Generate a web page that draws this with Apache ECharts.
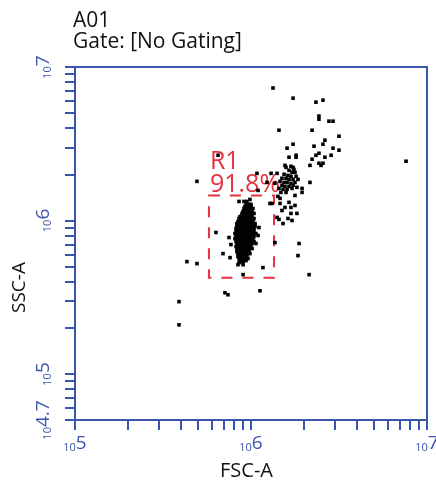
<!DOCTYPE html>
<html>
<head>
<meta charset="utf-8">
<title>A01 FSC-A / SSC-A</title>
<script src="https://cdn.jsdelivr.net/npm/echarts@6.0.0/dist/echarts.min.js"></script>
<style>
  html, body { margin: 0; padding: 0; background: #fff; }
  #chart { width: 436px; height: 481px; }
</style>
</head>
<body>
<div id="chart"></div>
<script>
// all event values are log10 of FSC-A / SSC-A
const xLabelExps = [5, 6, 7]
const xTickLabels = ['5', '6', '7']
const yLabelExps = [4.7, 5, 6, 7]
const yTickLabels = ['4.7', '5', '6', '7']

const gateX = [5.761, 6.131]
const gateY = [5.627, 6.163]
const gateName = 'R1'
const gatePct = '91.8%'

// main population, one row per SSC level: [ssc, [fsc...]]
const blobRows = [
  [6.137, [5.994]],
  [6.124, [5.932, 5.960, 5.977]],
  [6.105, [5.972, 5.989, 6.000]],
  [6.092, [5.966, 5.983, 6.000]],
  [6.078, [5.960, 5.977, 5.994, 6.011]],
  [6.059, [5.955, 5.972, 5.989, 6.006]],
  [6.046, [5.949, 5.966, 5.983, 6.000, 6.017]],
  [6.026, [5.938, 5.955, 5.972, 5.989, 6.006]],
  [6.013, [5.932, 5.949, 5.966, 5.983, 6.000, 6.017]],
  [5.993, [5.926, 5.943, 5.960, 5.977, 5.994, 6.011]],
  [5.980, [5.920, 5.938, 5.955, 5.972, 5.989, 6.006, 6.023]],
  [5.961, [5.920, 5.938, 5.955, 5.972, 5.989, 6.006, 6.023]],
  [5.948, [5.915, 5.932, 5.949, 5.966, 5.983, 6.000, 6.017]],
  [5.928, [5.915, 5.932, 5.949, 5.966, 5.983, 6.000, 6.017]],
  [5.915, [5.909, 5.926, 5.943, 5.960, 5.977, 5.994, 6.011, 6.028]],
  [5.895, [5.915, 5.932, 5.949, 5.966, 5.983, 6.000, 6.017]],
  [5.882, [5.909, 5.926, 5.943, 5.960, 5.977, 5.994, 6.011]],
  [5.863, [5.915, 5.932, 5.949, 5.966, 5.983, 6.000, 6.017]],
  [5.850, [5.920, 5.938, 5.955, 5.972, 5.989, 6.006]],
  [5.830, [5.915, 5.932, 5.949, 5.966, 5.983, 6.000]],
  [5.817, [5.920, 5.938, 5.955, 5.972, 5.989, 6.006]],
  [5.797, [5.920, 5.938, 5.955, 5.972, 5.989]],
  [5.784, [5.926, 5.943, 5.960, 5.977, 5.994]],
  [5.765, [5.926, 5.943, 5.960, 5.977]],
  [5.752, [5.932, 5.949, 5.966, 5.983]],
  [5.732, [5.938, 5.955]],
  [5.712, [5.926, 5.955]]
]

// second population, up and right of the gate: [fsc, ssc]
const clusterEvents = [
  [6.125, 6.863], [6.239, 6.797], [6.369, 6.771], [6.409, 6.784],
  [6.386, 6.680], [6.386, 6.660], [6.443, 6.647], [6.466, 6.647],
  [6.159, 6.588], [6.347, 6.588], [6.500, 6.549], [6.420, 6.523],
  [6.239, 6.497], [6.409, 6.497], [6.358, 6.484], [6.205, 6.471],
  [6.466, 6.471], [6.500, 6.458], [6.256, 6.425], [6.256, 6.412],
  [6.386, 6.438], [6.369, 6.425], [6.216, 6.412], [6.420, 6.412],
  [6.455, 6.425], [6.347, 6.399], [6.386, 6.373], [6.409, 6.373],
  [6.398, 6.359], [6.335, 6.359], [6.193, 6.359], [6.239, 6.346],
  [6.881, 6.386], [6.114, 6.307], [6.148, 6.307],
  [6.199, 6.346], [6.227, 6.353], [6.244, 6.333], [6.216, 6.327],
  [6.233, 6.314], [6.250, 6.314], [6.188, 6.301], [6.210, 6.294],
  [6.227, 6.288], [6.256, 6.288], [6.176, 6.275], [6.199, 6.275],
  [6.216, 6.268], [6.239, 6.268], [6.267, 6.268], [6.165, 6.255],
  [6.188, 6.248], [6.205, 6.248], [6.227, 6.242], [6.250, 6.248],
  [6.176, 6.229], [6.193, 6.222], [6.216, 6.222], [6.239, 6.229],
  [6.159, 6.209], [6.182, 6.203], [6.205, 6.203], [6.233, 6.209],
  [6.261, 6.216], [6.136, 6.242], [6.170, 6.183], [6.199, 6.183],
  [6.290, 6.183], [6.250, 6.163], [6.153, 6.157], [6.165, 6.144],
  [6.216, 6.118], [6.250, 6.098], [6.335, 6.248], [6.290, 6.209]
]

// loose events around both populations: [fsc, ssc]
const strayEvents = [
  [6.034, 6.307], [6.040, 6.196], [6.091, 6.248], [6.108, 6.111],
  [6.119, 6.111], [6.165, 6.111], [6.193, 6.085], [6.227, 6.085],
  [6.176, 6.065], [6.261, 6.046], [6.227, 6.046], [6.148, 6.020],
  [6.159, 6.007], [6.210, 6.013], [6.233, 6.000], [6.182, 5.980],
  [6.045, 5.954], [6.273, 5.850], [6.136, 5.856], [5.841, 5.784],
  [5.881, 5.758], [5.932, 5.725], [5.972, 5.739], [6.068, 5.693],
  [5.955, 5.647], [6.330, 5.647], [5.886, 5.843], [5.636, 5.732],
  [5.693, 5.719], [6.267, 5.771], [5.852, 5.529], [5.869, 5.516],
  [6.051, 5.542], [5.591, 5.471], [5.591, 5.320], [5.693, 6.255],
  [5.813, 6.425], [5.801, 5.922], [5.875, 5.889], [6.028, 5.850],
  [6.040, 5.902]
]

const axisBlue = '#3a55ad'
const gateRed = '#e4323e'
const font = 'Open Sans'

// decade ticks 1..9 x 10^n, in log10 units
function logTicks(min, max) {
  const out = [min]
  for (let d = Math.floor(min); d < max; d++) {
    for (let k = 1; k < 10; k++) {
      const v = d + Math.log10(k)
      if (v > min + 0.002 && v <= max) out.push(v)
    }
  }
  out.push(max)
  return out
}

function expLabel(exps, labels) {
  return function (v) {
    const i = exps.findIndex(e => Math.abs(e - v) < 1e-6)
    return '{b|10}{e|' + labels[i] + '}'
  }
}

const events = strayEvents.concat(clusterEvents)
blobRows.forEach(([ssc, fscs]) => {
  fscs.forEach(fsc => events.push([fsc, ssc]))
})

const chart = echarts.init(document.getElementById('chart'))

const axisCommon = {
  type: 'value',
  splitLine: { show: false },
  axisLine: { show: true, onZero: false, lineStyle: { color: axisBlue, width: 2 } },
  axisTick: { show: true, length: 10, lineStyle: { color: axisBlue, width: 2 } },
  nameLocation: 'middle',
  nameMoveOverlap: false
}

chart.setOption({
  animation: false,
  title: {
    text: 'A01\nGate: [No Gating]',
    left: 73,
    top: 11,
    padding: 0,
    textStyle: { fontFamily: font, fontSize: 21, fontWeight: 'normal', lineHeight: 21, color: '#111' }
  },
  grid: {
    left: 75, right: 9, top: 67, bottom: 61,
    show: true,
    borderColor: axisBlue,
    borderWidth: 2,
    outerBoundsMode: 'none'
  },
  xAxis: Object.assign({}, axisCommon, {
    min: 5,
    max: 7,
    axisTick: Object.assign({}, axisCommon.axisTick, { customValues: logTicks(5, 7) }),
    axisLabel: {
      customValues: xLabelExps,
      margin: 14,
      formatter: expLabel(xLabelExps, xTickLabels),
      rich: {
        b: { fontFamily: font, fontSize: 11, lineHeight: 11, color: axisBlue, verticalAlign: 'bottom' },
        e: { fontFamily: font, fontSize: 19, lineHeight: 19, color: axisBlue, verticalAlign: 'top', padding: [0, 0, 3, 0] }
      }
    },
    name: 'FSC-A',
    nameGap: 41,
    nameTextStyle: { fontFamily: font, fontSize: 20, lineHeight: 20, color: '#111', padding: [0, 9, 0, 0] }
  }),
  yAxis: Object.assign({}, axisCommon, {
    min: 4.7,
    max: 7,
    axisTick: Object.assign({}, axisCommon.axisTick, { customValues: logTicks(4.7, 7) }),
    axisLabel: {
      customValues: yLabelExps,
      rotate: 90,
      margin: 22,
      formatter: expLabel(yLabelExps, yTickLabels),
      rich: {
        b: { fontFamily: font, fontSize: 11, lineHeight: 11, color: axisBlue, verticalAlign: 'bottom' },
        e: { fontFamily: font, fontSize: 19, lineHeight: 19, color: axisBlue, verticalAlign: 'top' }
      }
    },
    name: 'SSC-A',
    nameGap: 46,
    nameTextStyle: { fontFamily: font, fontSize: 19, lineHeight: 19, color: '#111', padding: [0, 88, 0, 0] }
  }),
  series: [{
    type: 'scatter',
    data: events,
    symbol: 'rect',
    symbolSize: 3.6,
    itemStyle: { color: '#000', opacity: 1 },
    silent: true,
    markArea: {
      silent: true,
      itemStyle: {
        color: 'rgba(0,0,0,0)',
        borderColor: gateRed,
        borderWidth: 2,
        borderType: [11, 10]
      },
      label: {
        show: true,
        position: [2, -44],
        align: 'left',
        verticalAlign: 'top',
        formatter: gateName + '\n' + gatePct,
        fontFamily: font,
        fontSize: 25,
        lineHeight: 23,
        color: gateRed
      },
      data: [[
        { coord: [gateX[0], gateY[1]] },
        { coord: [gateX[1], gateY[0]] }
      ]]
    }
  }]
})
</script>
</body>
</html>
